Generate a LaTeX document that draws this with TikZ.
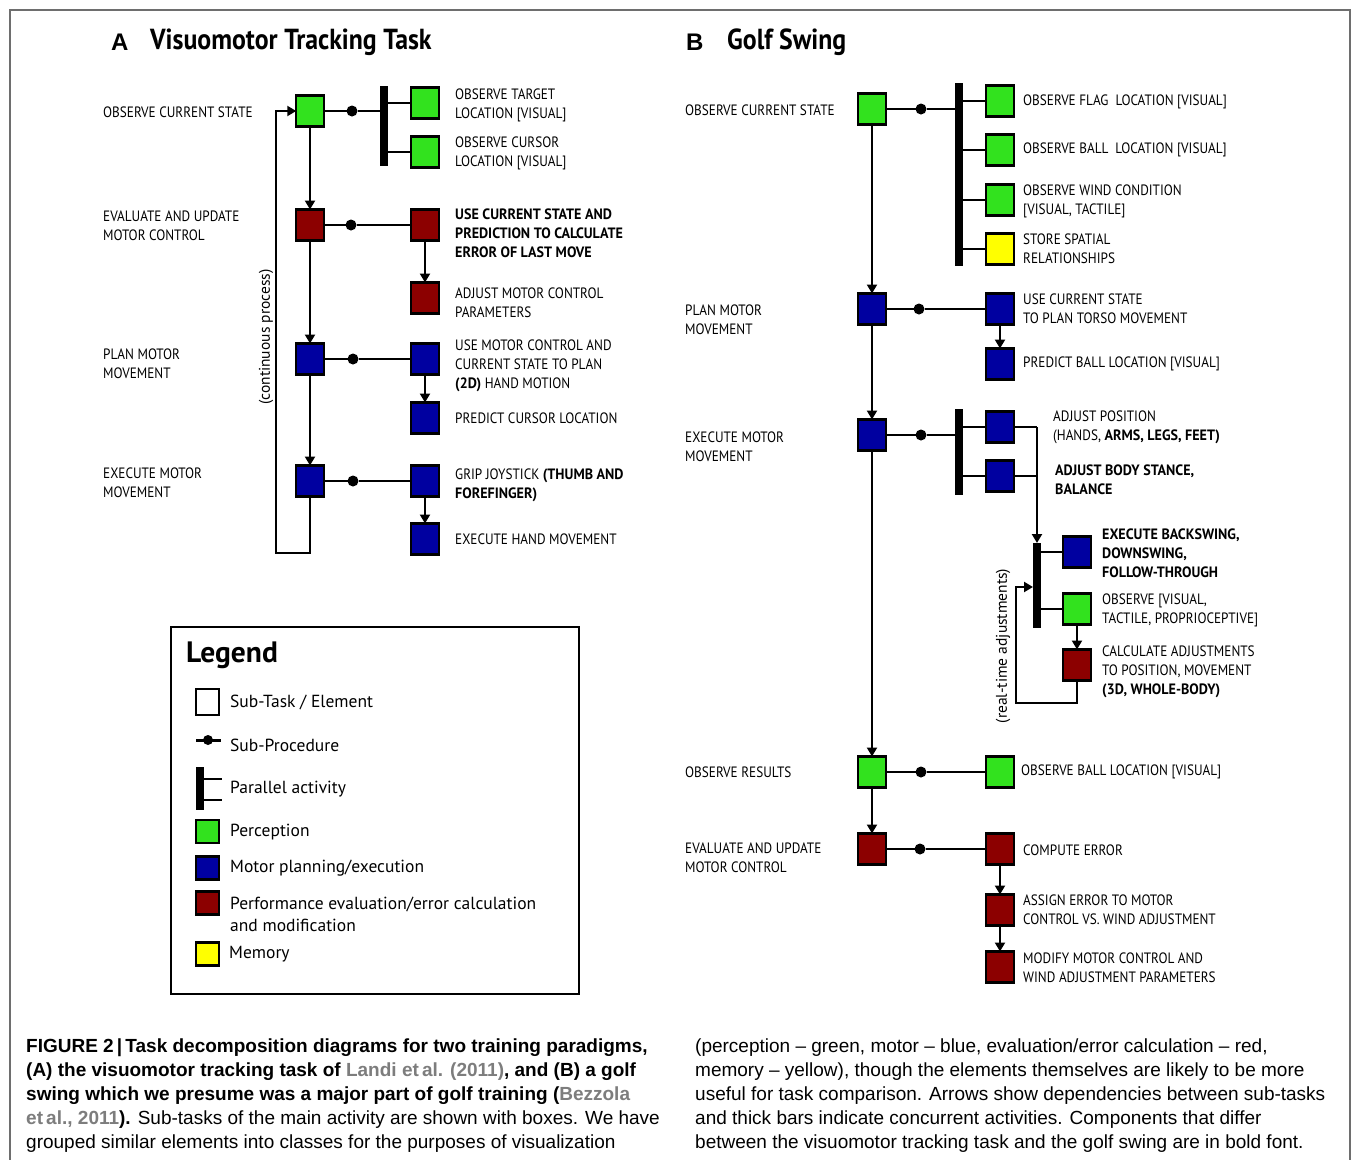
\documentclass[tikz,border=0pt]{standalone}
\usepackage{fontspec}
\usetikzlibrary{arrows.meta,calc}
\newfontfamily\cond[FakeStretch=0.88]{PT Sans}
\newfontfamily\condb[FakeStretch=0.94]{PT Sans}
\newfontfamily\ttlf[FakeStretch=0.89]{PT Sans}
\newfontfamily\lgdf{PT Sans}
\newfontfamily\capf{Liberation Sans}
\newfontfamily\letf{Liberation Sans}
\newcommand\bd[1]{{\condb\bfseries #1}}
\definecolor{pgreen}{RGB}{50,226,30}
\definecolor{pblue}{RGB}{0,0,160}
\definecolor{pred}{RGB}{140,0,0}
\definecolor{pyellow}{RGB}{255,255,0}
\definecolor{framegray}{RGB}{110,110,110}
\definecolor{citegray}{RGB}{125,125,125}
\tikzset{
  box/.style={draw=black, line width=2.4pt, minimum width=27.5pt, minimum height=31pt, inner sep=0pt, outer sep=0pt},
  gb/.style={box, fill=pgreen},
  bb/.style={box, fill=pblue},
  rb/.style={box, fill=pred},
  yb/.style={box, fill=pyellow},
  wb/.style={box, fill=white, minimum width=23pt, minimum height=25.5pt},
  pdot/.style={circle, fill=black, inner sep=0pt, outer sep=0pt, minimum size=11pt},
  pbar/.style={fill=black, inner sep=0pt, outer sep=0pt, minimum width=8pt},
  ln/.style={line width=2.2pt},
  arr/.style={line width=2.2pt, -{Triangle[length=9pt,width=10pt]}},
  lab/.style={anchor=west, inner sep=0pt, align=left, font=\cond\fontsize{15}{19}\selectfont},
  ttl/.style={anchor=west, inner sep=0pt, font=\ttlf\bfseries\fontsize{29}{29}\selectfont},
  letr/.style={anchor=west, inner sep=0pt, font=\letf\bfseries\fontsize{24}{24}\selectfont},
  rottxt/.style={rotate=90, inner sep=0pt, font=\lgdf\fontsize{15.5}{15.5}\selectfont},
  lgt/.style={anchor=west, inner sep=0pt, align=left, font=\lgdf\fontsize{17.5}{22}\selectfont},
  captxt/.style={anchor=base west, inner sep=0pt, font=\capf\fontsize{19}{24}\selectfont},
}
\begin{document}
\begin{tikzpicture}[x=1pt,y=-1pt]
\useasboundingbox (0,0) rectangle (1353,1160);
\fill[white] (0,0) rectangle (1353,1160);
\draw[framegray, line width=1.6pt] (10,1160) -- (10,10) -- (1350,10) -- (1350,1160);

% ---------------- Panel A ----------------
\node[letr] (tA) at (111,42) {A};
\node[ttl] (tAt) at (150,42) {Visuomotor Tracking Task};

\node[gb] (a1) at (310,111) {};
\node[rb] (a2) at (310,225) {};
\node[bb] (a3) at (310,359) {};
\node[bb] (a4) at (310,481) {};
\node[pdot] (da1) at (352,111) {};
\node[pdot] (da2) at (351,225) {};
\node[pdot] (da3) at (353,359) {};
\node[pdot] (da4) at (353,481) {};
\node[pbar, minimum height=80pt] (barA) at (384,126) {};
\node[gb] (a1s1) at (425,103) {};
\node[gb] (a1s2) at (425,152) {};
\node[rb] (a2s1) at (425,225) {};
\node[rb] (a2s2) at (425,298) {};
\node[bb] (a3s1) at (425,359) {};
\node[bb] (a3s2) at (425,418) {};
\node[bb] (a4s1) at (425,481) {};
\node[bb] (a4s2) at (425,539) {};

\node[lab] (la1) at (103,112) {OBSERVE CURRENT STATE};
\node[lab] (la2) at (103,226) {EVALUATE AND UPDATE\\MOTOR CONTROL};
\node[lab] (la3) at (103,364) {PLAN MOTOR\\MOVEMENT};
\node[lab] (la4) at (103,483) {EXECUTE MOTOR\\MOVEMENT};
\node[lab] (ls1) at (455,105) {OBSERVE TARGET\\LOCATION [VISUAL]};
\node[lab] (ls2) at (455,153) {OBSERVE CURSOR\\LOCATION [VISUAL]};
\node[lab] (ls3) at (455,233) {\bd{USE CURRENT STATE AND}\\\bd{PREDICTION TO CALCULATE}\\\bd{ERROR OF LAST MOVE}};
\node[lab] (ls4) at (455,303) {ADJUST MOTOR CONTROL\\PARAMETERS};
\node[lab] (ls5) at (455,366) {USE MOTOR CONTROL AND\\CURRENT STATE TO PLAN\\\bd{(2D)} HAND MOTION};
\node[lab] (ls6) at (455,418) {PREDICT CURSOR LOCATION};
\node[lab] (ls7) at (455,485) {GRIP JOYSTICK \bd{(THUMB AND}\\\bd{FOREFINGER)}};
\node[lab] (ls8) at (455,539) {EXECUTE HAND MOVEMENT};

\draw[ln] (a1.east) -- (da1) -- (barA.west |- da1);
\draw[ln] (barA.east |- a1s1) -- (a1s1.west);
\draw[ln] (barA.east |- a1s2) -- (a1s2.west);
\draw[ln] (a2.east) -- (da2) -- (a2s1.west);
\draw[ln] (a3.east) -- (da3) -- (a3s1.west);
\draw[ln] (a4.east) -- (da4) -- (a4s1.west);
\draw[arr] (a2s1) -- (a2s2);
\draw[arr] (a3s1) -- (a3s2);
\draw[arr] (a4s1) -- (a4s2);
\draw[arr] (a1) -- (a2);
\draw[arr] (a2) -- (a3);
\draw[arr] (a3) -- (a4);
\coordinate (loopA) at (276,553);
\draw[arr, line join=miter] (a4.south) |- (loopA) |- (a1.west);
\node[rottxt] (cpA) at (266,337) {(continuous process)};

% ---------------- Panel B ----------------
\node[letr] (tB) at (686,42) {B};
\node[ttl] (tBt) at (727,42) {Golf Swing};

\node[gb] (b1) at (872,109) {};
\node[bb] (b2) at (872,309) {};
\node[bb] (b3) at (872,435) {};
\node[gb] (b4) at (872,772) {};
\node[rb] (b5) at (872,849) {};
\node[pdot] (db1) at (921,109) {};
\node[pdot] (db2) at (919,309) {};
\node[pdot] (db3) at (921,435) {};
\node[pdot] (db4) at (921,772) {};
\node[pdot] (db5) at (920,849) {};
\node[pbar, minimum height=183pt] (barB1) at (959,174.5) {};
\node[pbar, minimum height=86pt] (barB2) at (959,452) {};
\node[pbar, minimum height=85pt] (barB3) at (1037,585.5) {};
\node[gb] (b1s1) at (1000,101) {};
\node[gb] (b1s2) at (1000,150) {};
\node[gb] (b1s3) at (1000,200) {};
\node[yb] (b1s4) at (1000,249) {};
\node[bb] (b2s1) at (1000,309) {};
\node[bb] (b2s2) at (1000,364) {};
\node[bb] (b3s1) at (1000,427) {};
\node[bb] (b3s2) at (1000,476) {};
\node[bb] (c1) at (1077,552) {};
\node[gb] (c2) at (1077,609) {};
\node[rb] (c3) at (1077,665) {};
\node[gb] (b4s1) at (1000,772) {};
\node[rb] (b5s1) at (1000,849) {};
\node[rb] (b5s2) at (1000,910) {};
\node[rb] (b5s3) at (1000,967) {};

\node[lab] (lb1) at (685,110) {OBSERVE CURRENT STATE};
\node[lab] (lb2) at (685,320) {PLAN MOTOR\\MOVEMENT};
\node[lab] (lb3) at (685,447) {EXECUTE MOTOR\\MOVEMENT};
\node[lab] (lb4) at (685,772) {OBSERVE RESULTS};
\node[lab] (lb5) at (685,858) {EVALUATE AND UPDATE\\MOTOR CONTROL};
\node[lab] (mb1) at (1023,102) {OBSERVE FLAG\ \ LOCATION [VISUAL]};
\node[lab] (mb2) at (1023,150) {OBSERVE BALL\ \ LOCATION [VISUAL]};
\node[lab] (mb3) at (1023,201) {OBSERVE WIND CONDITION\\{[VISUAL, TACTILE]}};
\node[lab] (mb4) at (1023,249) {STORE SPATIAL\\RELATIONSHIPS};
\node[lab] (mb5) at (1023,309) {USE CURRENT STATE\\TO PLAN TORSO MOVEMENT};
\node[lab] (mb6) at (1023,364) {PREDICT BALL LOCATION [VISUAL]};
\node[lab] (mb7) at (1053,427) {ADJUST POSITION\\(HANDS, \bd{ARMS, LEGS, FEET)}};
\node[lab] (mb8) at (1055,480) {\bd{ADJUST BODY STANCE,}\\\bd{BALANCE}};
\node[lab] (mb9) at (1102,553) {\bd{EXECUTE BACKSWING,}\\\bd{DOWNSWING,}\\\bd{FOLLOW-THROUGH}};
\node[lab] (mb10) at (1102,610) {OBSERVE [VISUAL,\\TACTILE, PROPRIOCEPTIVE]};
\node[lab] (mb11) at (1102,672) {CALCULATE ADJUSTMENTS\\TO POSITION, MOVEMENT\\\bd{(3D, WHOLE-BODY)}};
\node[lab] (mb12) at (1021,772) {OBSERVE BALL LOCATION [VISUAL]};
\node[lab] (mb13) at (1023,850) {COMPUTE ERROR};
\node[lab] (mb14) at (1023,910) {ASSIGN ERROR TO MOTOR\\CONTROL VS. WIND ADJUSTMENT};
\node[lab] (mb15) at (1023,968) {MODIFY MOTOR CONTROL AND\\WIND ADJUSTMENT PARAMETERS};

\draw[ln] (b1.east) -- (db1) -- (barB1.west |- db1);
\draw[ln] (barB1.east |- b1s1) -- (b1s1.west);
\draw[ln] (barB1.east |- b1s2) -- (b1s2.west);
\draw[ln] (barB1.east |- b1s3) -- (b1s3.west);
\draw[ln] (barB1.east |- b1s4) -- (b1s4.west);
\draw[ln] (b2.east) -- (db2) -- (b2s1.west);
\draw[arr] (b2s1) -- (b2s2);
\draw[ln] (b3.east) -- (db3) -- (barB2.west |- db3);
\draw[ln] (barB2.east |- b3s1) -- (b3s1.west);
\draw[ln] (barB2.east |- b3s2) -- (b3s2.west);
\coordinate (jB) at (1037,427);
\draw[ln] (b3s1.east) -- (jB);
\draw[ln] (b3s2.east) -- (jB |- b3s2.east);
\draw[arr] (jB) -- (barB3.north);
\draw[ln] (barB3.east |- c1) -- (c1.west);
\draw[ln] (barB3.east |- c2) -- (c2.west);
\draw[arr] (c2) -- (c3);
\coordinate (lpB1) at (1016,703);
\coordinate (lpB2) at (1016,587);
\draw[arr, line join=miter] (c3.south) |- (lpB1) -- (lpB2) -- (barB3.west |- lpB2);
\node[rottxt] (rtB) at (1003,646) {(real-time adjustments)};
\draw[ln] (b4.east) -- (db4) -- (b4s1.west);
\draw[ln] (b5.east) -- (db5) -- (b5s1.west);
\draw[arr] (b5s1) -- (b5s2);
\draw[arr] (b5s2) -- (b5s3);
\draw[arr] (b1) -- (b2);
\draw[arr] (b2) -- (b3);
\draw[arr] (b3) -- (b4);
\draw[arr] (b4) -- (b5);

% ---------------- Legend ----------------
\node[draw=black, line width=2.5pt, minimum width=408pt, minimum height=367pt, inner sep=0pt, outer sep=0pt] (legend) at (375,810.5) {};
\node[anchor=west, inner sep=0pt, font=\lgdf\bfseries\fontsize{29.5}{29.5}\selectfont] (lgT) at (186,655) {Legend};
\node[wb] (lg1) at (207.5,702) {};
\node[lgt] (lg1t) at (230,702) {Sub-Task / Element};
\coordinate (sp1) at (196,740);
\coordinate (sp2) at (221,740);
\node[pdot, minimum size=10pt] (spd) at (208,740) {};
\draw[line width=3pt] (sp1) -- (sp2);
\node[lgt] (lg2t) at (230,745) {Sub-Procedure};
\node[pbar, minimum height=43pt] (lbar) at (199.5,788.5) {};
\coordinate (pt1) at (222,779);
\coordinate (pt2) at (222,800);
\draw[line width=2pt] (lbar.east |- pt1) -- (pt1);
\draw[line width=2pt] (lbar.east |- pt2) -- (pt2);
\node[lgt] (lg3t) at (230,789) {Parallel activity};
\node[gb, minimum width=23pt, minimum height=23pt] (lg4) at (207.5,831.5) {};
\node[lgt] (lg4t) at (230,832) {Perception};
\node[bb, minimum width=23pt, minimum height=23pt] (lg5) at (207.5,868) {};
\node[lgt] (lg5t) at (230,868) {Motor planning/execution};
\node[rb, minimum width=23pt, minimum height=23pt] (lg6) at (207.5,903) {};
\node[lgt] (lg6t) at (230,914) {Performance evaluation/error calculation\\and modification};
\node[yb, minimum width=23pt, minimum height=23pt] (lg7) at (207.5,954) {};
\node[lgt] (lg7t) at (229,954) {Memory};

% ---------------- Caption ----------------
\node[captxt] (c1l) at (26,1052) {\bfseries FIGURE 2\,|\,Task decomposition diagrams for two training paradigms,};
\node[captxt] (c2l) at (26,1076) {\bfseries (A) the visuomotor tracking task of \textcolor{citegray}{Landi et\,al. (2011)}, and (B) a golf};
\node[captxt] (c3l) at (26,1100) {\bfseries swing which we presume was a major part of golf training (\textcolor{citegray}{Bezzola}};
\node[captxt] (c4l) at (26,1124) {\textbf{\textcolor{citegray}{et\,al., 2011}).} Sub-tasks of the main activity are shown with boxes. We have};
\node[captxt] (c5l) at (26,1148) {grouped similar elements into classes for the purposes of visualization};
\node[captxt] (c1r) at (695,1052) {(perception – green, motor – blue, evaluation/error calculation – red,};
\node[captxt] (c2r) at (695,1076) {memory – yellow), though the elements themselves are likely to be more};
\node[captxt] (c3r) at (695,1100) {useful for task comparison. Arrows show dependencies between sub-tasks};
\node[captxt] (c4r) at (695,1124) {and thick bars indicate concurrent activities. Components that differ};
\node[captxt] (c5r) at (695,1148) {between the visuomotor tracking task and the golf swing are in bold font.};
\end{tikzpicture}
\end{document}
